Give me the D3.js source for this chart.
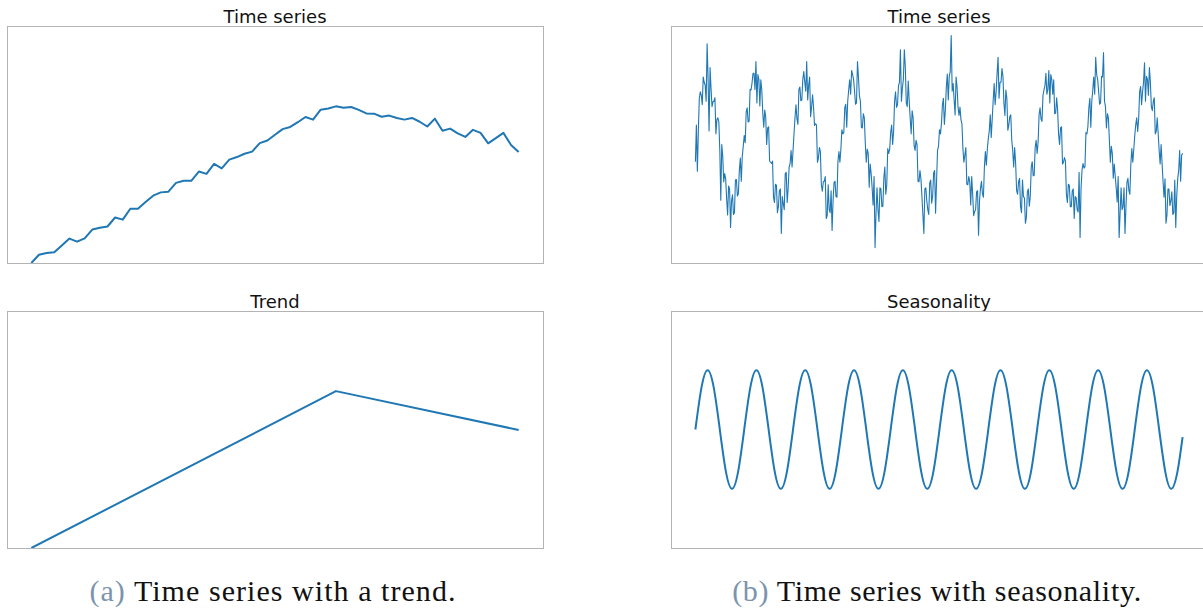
<!DOCTYPE html>
<html>
<head>
<meta charset="utf-8">
<script src="https://cdn.jsdelivr.net/npm/d3@7"></script>
<style>
  body { margin: 0; background: #fff; }
</style>
</head>
<body>
<div id="chart"></div>
<script>
// Figure size and panel layout (two columns of stacked panels)
const width = 1203;
const height = 608;
const panelW = 536;
const panelH = 237;
const colX = [7, 671];
const rowY = [26, 311];
const lineColor = "#1f77b4";

// (a) observed series with a trend, one value per step
const trendSeries = [
  0, 3.5, 4.2, 4.5, 7.4, 10.3, 9.0, 10.4, 14.1, 14.9, 15.4, 19.2, 18.3,
  22.9, 22.9, 25.7, 28.4, 29.8, 30.1, 33.8, 34.7, 34.7, 38.6, 37.6, 41.8,
  39.9, 43.6, 44.7, 46.1, 47.0, 50.6, 51.7, 54.1, 56.5, 57.4, 59.4, 61.6,
  60.5, 64.7, 65.2, 66.1, 65.5, 65.8, 64.6, 63.1, 63.0, 61.7, 62.2, 61.2,
  60.5, 61.2, 59.6, 57.6, 60.9, 55.8, 56.7, 54.7, 53.2, 56.2, 54.9, 50.5,
  52.7, 54.9, 49.8, 46.8
];

// (a) trend component: knots of the piecewise line
const trendKnots = [0, 40, 64];
const trendValues = [0, 66.2, 49.8];

// (b) observed series with seasonality, one value per step (50 steps a cycle)
const seasonSeries = [
  -0.29, 0.33, -0.45, 0.22, 0.78, 0.89, 0.83, 0.67, 1.14, 1.05, 1.00, 0.73, 1.70, 1.10, 0.23, 1.30, 0.95, 0.64, 0.72, 0.73, 0.79, 0.18, 0.42, 0.45, 0.38,
  -0.10, -0.94, 0.00, -0.20, -0.63, -0.49, -0.58, -0.92, -1.19, -0.70, -0.75, -1.40, -0.95, -0.85, -1.18, -1.15, -0.60, -0.59, -0.87, -0.83, -0.44, -0.23, -0.62, -0.20, -0.03,
  0.15, 0.03, 0.55, 0.62, 0.38, 0.39, 0.93, 0.92, 1.04, 1.20, 1.20, 0.93, 1.40, 0.70, 1.18, 1.10, 0.65, 1.09, 0.92, 0.53, 0.29, 0.58, 0.47, 0.00, 0.28,
  0.30, -0.28, -0.30, -0.32, -0.28, -0.89, -0.98, -0.67, -0.69, -1.15, -1.05, -0.78, -0.75, -1.50, -0.88, -1.00, -1.10, -0.49, -0.47, -0.98, -0.74, -0.38, -0.32, -0.10, -0.38,
  -0.10, 0.18, 0.45, 0.67, 0.43, 0.34, 0.93, 0.97, 0.74, 0.75, 1.10, 1.23, 1.05, 0.90, 1.40, 0.75, 1.00, 1.14, 0.47, 0.63, 0.84, 0.63, 0.32, 0.35, 0.33,
  -0.30, -0.23, -0.05, -0.12, -0.68, -0.79, -0.63, -0.62, -0.54, -1.25, -1.20, -0.68, -1.10, -1.15, -0.78, -1.45, -0.95, -0.64, -0.62, -0.88, -0.89, -0.28, -0.12, -0.30, -0.08,
  0.25, 0.18, 0.20, 0.62, 0.68, 0.29, 0.73, 0.92, 1.09, 0.85, 1.25, 1.18, 1.10, 0.90, 0.68, 0.70, 1.40, 1.14, 0.82, 0.73, 0.29, 0.28, 0.52, 0.45, 0.03,
  -0.30, -0.08, -0.15, -0.72, -0.33, -0.49, -0.73, -1.02, -0.54, -1.74, -1.15, -0.73, -1.10, -1.30, -0.73, -0.75, -1.05, -1.04, -0.57, -0.38, -0.84, -0.68, -0.07, -0.15, -0.08,
  0.20, 0.33, 0.00, 0.22, 0.73, 0.89, 0.63, 0.67, 0.99, 1.05, 1.60, 0.73, 0.95, 1.10, 1.60, 1.30, 0.70, 0.64, 1.07, 0.73, 0.44, 0.18, 0.57, 0.45, -0.02,
  -0.10, 0.07, 0.00, -0.62, -0.63, -0.44, -0.58, -0.87, -1.19, -1.50, -0.75, -0.73, -0.95, -1.10, -1.18, -0.65, -0.60, -0.99, -0.87, -0.48, -0.44, -1.16, -0.62, -0.10, -0.03,
  0.25, 0.18, 0.35, 0.67, 0.78, 0.34, 0.58, 0.97, 1.19, 0.75, 1.15, 1.23, 1.84, 0.90, 1.03, 0.75, 0.50, 1.14, 0.97, 0.63, 0.49, 0.63, 0.42, 0.35, -0.07,
  -0.30, -0.18, -0.05, -0.67, -0.68, -0.54, -0.63, -1.02, -0.54, -0.85, -1.20, -1.13, -1.10, -0.80, -0.78, -1.53, -0.95, -0.74, -0.62, -0.83, -0.89, -0.38, -0.12, -0.35, -0.08,
  0.10, 0.23, 0.50, 0.12, 0.43, 0.74, 1.03, 0.67, 0.89, 1.20, 1.47, 0.78, 1.05, 1.05, 1.28, 1.15, 0.70, 0.49, 0.92, 0.78, 0.24, 0.33, 0.47, 0.50, 0.08,
  -0.10, -0.38, -0.05, -0.32, -0.78, -0.84, -0.63, -0.57, -1.04, -1.15, -0.60, -0.88, -0.90, -1.33, -1.23, -0.80, -0.75, -1.04, -0.87, -0.38, -0.29, -0.53, -0.52, -0.05, 0.07,
  -0.15, 0.03, 0.50, 0.62, 0.43, 0.39, 0.83, 0.92, 0.99, 1.20, 0.85, 0.93, 1.25, 0.70, 1.18, 1.10, 0.85, 1.09, 0.52, 0.53, 0.79, 0.58, 0.17, 0.00, 0.28,
  0.30, -0.33, -0.30, -0.22, -0.28, -0.84, -0.98, -0.67, -0.69, -1.05, -1.05, -0.78, -0.75, -1.25, -0.88, -0.90, -1.10, -1.14, -0.47, -1.57, -0.74, -0.43, -0.32, -0.40, -0.38,
  0.20, 0.18, 0.30, 0.62, 0.78, 0.29, 0.73, 0.92, 1.14, 0.85, 1.47, 1.18, 1.10, 0.90, 0.68, 0.70, 1.15, 1.14, 1.55, 0.73, 0.64, 0.28, 0.52, 0.45, 0.08,
  -0.30, -0.03, -0.15, -0.57, -0.33, -0.54, -0.73, -0.97, -0.54, -1.57, -1.15, -0.73, -1.10, -1.05, -0.73, -1.50, -1.05, -0.64, -0.57, -0.78, -0.84, -0.33, -0.07, -0.30, -0.08,
  0.15, 0.33, 0.45, 0.22, 0.43, 0.89, 0.98, 0.67, 0.89, 1.05, 1.38, 0.73, 1.15, 1.10, 0.83, 1.30, 1.05, 0.64, 0.57, 0.73, 0.79, 0.18, 0.22, 0.45, 0.18,
  -0.10, -0.33, 0.00, -0.32, -0.63, -0.89, -0.58, -1.33, -1.19, -0.75, -0.75, -1.03, -0.95, -0.80, -1.18, -1.15, -0.60, -1.40, -0.87, -0.58, -0.44, -0.10, -0.62, -0.18, -0.15
];

// (b) seasonal component, read every eighth of a cycle (cycle = 50 steps)
const cycleStep = 6.25;
const cycleValues = [
  0, 0.71, 1, 0.71, 0, -0.71, -1, -0.71,
  0, 0.71, 1, 0.71, 0, -0.71, -1, -0.71,
  0, 0.71, 1, 0.71, 0, -0.71, -1, -0.71,
  0, 0.71, 1, 0.71, 0, -0.71, -1, -0.71,
  0, 0.71, 1, 0.71, 0, -0.71, -1, -0.71,
  0, 0.71, 1, 0.71, 0, -0.71, -1, -0.71,
  0, 0.71, 1, 0.71, 0, -0.71, -1, -0.71,
  0, 0.71, 1, 0.71, 0, -0.71, -1, -0.71,
  0, 0.71, 1, 0.71, 0, -0.71, -1, -0.71,
  0, 0.71, 1, 0.71, 0, -0.71, -1, -0.71
];
const cycleEnd = [499, -0.13];

const titles = [["Time series", "Trend"], ["Time series", "Seasonality"]];
const captionTags = ["(a)", "(b)"];
const captionTexts = ["Time series with a trend.", "Time series with seasonality."];
const captionWidths = [366, 409];

const svg = d3.select("#chart")
  .append("svg")
  .attr("width", width)
  .attr("height", height)
  .style("font-family", "'DejaVu Sans', sans-serif");

// one framed panel with its own scales
function makePanel(col, row, xDomain, yDomain) {
  const g = svg.append("g")
    .attr("transform", `translate(${colX[col]},${rowY[row]})`);
  const id = `clip-${col}-${row}`;
  g.append("clipPath").attr("id", id)
    .append("rect").attr("width", panelW).attr("height", panelH);
  g.append("text")
    .attr("x", panelW / 2)
    .attr("y", -3.5)
    .attr("text-anchor", "middle")
    .attr("font-size", "18px")
    .attr("fill", "#111")
    .text(titles[col][row]);
  const x = d3.scaleLinear().domain(xDomain).range([0, panelW]);
  const y = d3.scaleLinear().domain(yDomain).range([panelH, 0]);
  const plot = g.append("g").attr("clip-path", `url(#${id})`);
  g.append("rect")
    .attr("x", 0.5).attr("y", 0.5)
    .attr("width", panelW).attr("height", panelH)
    .attr("fill", "none")
    .attr("stroke", "#b3b3b3")
    .attr("stroke-width", 1);
  return {plot, x, y};
}

// left column: 65 steps with 5% side margins
const leftX = [-3.2, 67.2];
const leftY = [0, 100];

const p1 = makePanel(0, 0, leftX, leftY);
p1.plot.append("path")
  .datum(trendSeries)
  .attr("fill", "none")
  .attr("stroke", lineColor)
  .attr("stroke-width", 2)
  .attr("stroke-linejoin", "round")
  .attr("d", d3.line().x((d, i) => p1.x(i)).y(d => p1.y(d)));

const p2 = makePanel(0, 1, leftX, leftY);
p2.plot.append("path")
  .datum(d3.zip(trendKnots, trendValues))
  .attr("fill", "none")
  .attr("stroke", lineColor)
  .attr("stroke-width", 2)
  .attr("stroke-linejoin", "round")
  .attr("d", d3.line().x(d => p2.x(d[0])).y(d => p2.y(d[1])));

// right column: 500 steps
const rightX = [-25, 524];
const rightY = [-2, 2];

const p3 = makePanel(1, 0, rightX, rightY);
p3.plot.append("path")
  .datum(seasonSeries)
  .attr("fill", "none")
  .attr("stroke", lineColor)
  .attr("stroke-width", 1.1)
  .attr("stroke-linejoin", "round")
  .attr("d", d3.line().x((d, i) => p3.x(i)).y(d => p3.y(d)));

const p4 = makePanel(1, 1, rightX, rightY);
const cyclePts = cycleValues.map((v, i) => [i * cycleStep, v]).concat([cycleEnd]);
p4.plot.append("path")
  .datum(cyclePts)
  .attr("fill", "none")
  .attr("stroke", lineColor)
  .attr("stroke-width", 2)
  .attr("d", d3.line().curve(d3.curveNatural).x(d => p4.x(d[0])).y(d => p4.y(d[1])));

// sub-figure captions, spread to the width they take in the paper
[0, 1].forEach(c => {
  const t = svg.append("text")
    .attr("x", colX[c] + panelW / 2 - 2)
    .attr("y", 601)
    .attr("text-anchor", "middle")
    .attr("font-family", "'Liberation Serif', 'DejaVu Serif', serif")
    .attr("font-size", "30px");
  t.append("tspan").attr("fill", "#7b94ad").text(captionTags[c]);
  t.append("tspan").attr("fill", "#111").text(" " + captionTexts[c]);
  const n = (captionTags[c] + " " + captionTexts[c]).length;
  const extra = (captionWidths[c] - t.node().getComputedTextLength()) / (n - 1);
  if (extra > 0) t.attr("letter-spacing", extra.toFixed(2) + "px");
});
</script>
</body>
</html>
